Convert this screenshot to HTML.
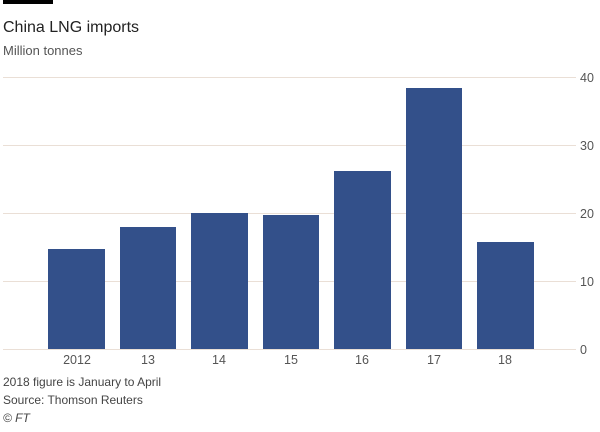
<!DOCTYPE html>
<html><head><style>
body{margin:0;background:#fff;width:600px;height:427px;overflow:hidden;font-family:"Liberation Sans",sans-serif}
</style></head><body>
<svg width="600" height="427" xmlns="http://www.w3.org/2000/svg" font-family="Liberation Sans, sans-serif">
<rect x="3" y="0" width="50" height="4" fill="#000"/>
<text x="3" y="32" font-size="16" fill="#222">China LNG imports</text>
<text x="3" y="55" font-size="13" fill="#555">Million tonnes</text>
<g stroke="#eadfd6" stroke-width="1">
<line x1="3" x2="576" y1="77.5" y2="77.5"/>
<line x1="3" x2="576" y1="145.5" y2="145.5"/>
<line x1="3" x2="576" y1="213.5" y2="213.5"/>
<line x1="3" x2="576" y1="281.5" y2="281.5"/>
<line x1="3" x2="576" y1="349.5" y2="349.5"/>
</g>
<g font-size="12.5" fill="#555" text-anchor="start">
<text x="580" y="82">40</text><text x="580" y="150">30</text><text x="580" y="218">20</text><text x="580" y="286">10</text><text x="580" y="354">0</text>
</g>
<g fill="#33508a">
<rect x="48" y="249" width="57" height="100"/>
<rect x="120" y="227" width="56" height="122"/>
<rect x="191" y="213" width="57" height="136"/>
<rect x="263" y="215" width="56" height="134"/>
<rect x="334" y="171" width="57" height="178"/>
<rect x="406" y="88" width="56" height="261"/>
<rect x="477" y="242" width="57" height="107"/>
</g>
<g font-size="12.5" fill="#555" text-anchor="middle">
<text x="77" y="364">2012</text><text x="148" y="364">13</text><text x="219" y="364">14</text><text x="291" y="364">15</text><text x="362" y="364">16</text><text x="434" y="364">17</text><text x="505" y="364">18</text>
</g>
<g font-size="12" fill="#444">
<text x="3" y="386">2018 figure is January to April</text>
<text x="3" y="404">Source: Thomson Reuters</text>
<text x="3" y="422" font-style="italic">© FT</text>
</g>
</svg>
</body></html>
